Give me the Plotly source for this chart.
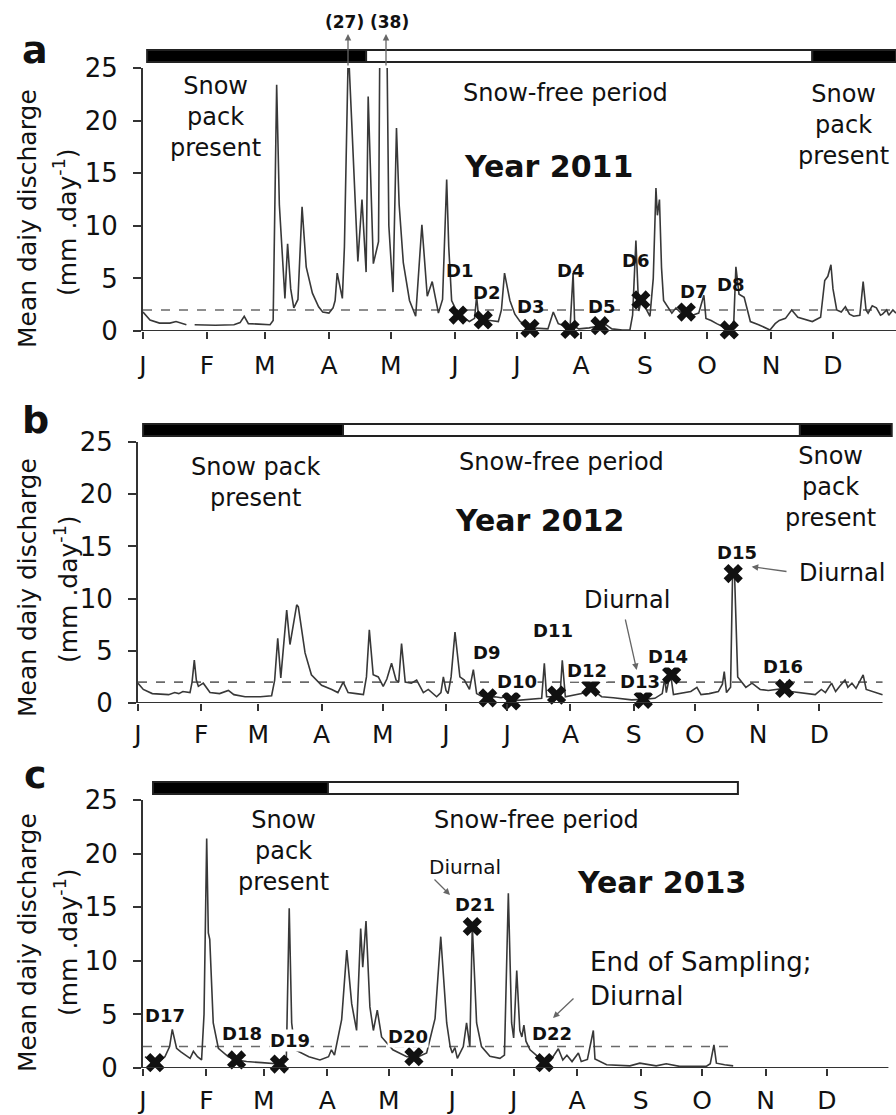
import plotly.graph_objects as go

W, H = 896, 1115
FONT = "DejaVu Sans"

# ---------------- data ----------------
month_starts = [0, 31, 59, 90, 120, 151, 181, 212, 243, 273, 304, 334]
month_labels = ["J", "F", "M", "A", "M", "J", "J", "A", "S", "O", "N", "D"]
threshold = 2.0

day_2011 = [0, 3.4, 8, 13, 16, 18, 21, 23, 25, 35, 44, 47, 49, 51, 56, 61.5, 63, 64.7, 66, 68.7, 70, 71.5, 73, 75, 77, 79, 82, 85, 87, 90,
            92, 93, 94, 96.5, 97.5, 99.4, 101, 104, 106, 108, 109, 111.5, 114, 115, 117.5, 119, 121, 122.7, 124, 126, 129, 132, 135, 137.6, 140, 143,
            145, 147, 148, 149.4, 152.5, 155, 158, 160.5, 161.5, 162.5, 164.5, 168, 172, 173.5, 175, 177.6, 180, 182.5, 187, 192, 196, 198.6,
            201, 204, 206.7, 208.2, 209, 211, 216, 221, 224, 227, 232, 235.7, 237, 238.6, 240, 241, 243, 245.4, 247, 248.3, 249, 250, 251, 252,
            254, 256, 258, 260, 263, 266, 269, 271.5, 272.5, 275, 277.7, 281, 284, 286, 287, 288.5, 291, 294, 298, 303.5, 306, 308, 311, 314,
            317, 324, 328, 330, 331.5, 333, 334, 335.8, 338, 340, 342, 344, 347, 348.6, 350, 351, 353, 355, 357, 358, 360, 361, 363, 364.5]
q_2011 = [1.8, 1.05, 0.75, 0.75, 0.9, 0.75, 0.6, None, 0.6, 0.55, 0.6, 0.8, 1.4, 0.7, 0.65, 0.6, 1.0, 23.4, 12, 3.1, 8.3, 4, 2.2, 3, 11.8, 6.1, 3.6, 2.3, 1.8, 1.7,
          2.2, 2.9, 5.5, 3.1, 8, 27, 20, 6.6, 12.5, 5.6, 22.3, 6.4, 8.5, 38, 38, 10, 3.7, 19.3, 12, 6.5, 2.9, 1.4, 10.1, 3.3, 4.7, 1.7,
          3, 14.4, 8, 2.9, 1.6, 1.3, 0.9, 1.2, 3.3, 1.2, 1.0, 1.0, 0.9, 2, 5.5, 2.9, 1.6, 0.9, 0.3, 0.25, 0.2, 1.8,
          0.7, 0.5, 0.2, 5.5, 0.4, 0.2, 0.3, 0.5, 0.6, 0.2, 0.1, 0.1, 1.5, 8.6, 1.9, 2.8, 2.3, 1.4, 5, 13.6, 11, 12.5, 6, 2.9,
          2.3, 1.7, 2.2, 1.8, 1.9, 1.5, 1.7, 3.4, 1.2, 1.0, 0.7, 0.4, 0.1, 1, 6.1, 3.5, 3.2, 0.9, 0.6, 0.1, 0.7, 1.0, 1.2, 2.0,
          1.3, 0.9, 1.3, 4.8, 5.2, 6.3, 4, 2.0, 1.8, 2.3, 1.6, 1.4, 1.5, 4.7, 2.0, 1.7, 2.4, 2.2, 1.5, 1.6, 2.0, 1.5, 2.0, 1.7]

day_2012 = [0, 2.6, 7, 12, 15, 18, 20, 22, 25.5, 26.5, 27.6, 28.6, 29.6, 32, 35.3, 40, 44.3, 47, 52.5, 60, 65.5, 67, 68.5, 70, 72.9, 74.5,
            77.8, 78.6, 81.9, 85, 90, 95, 98, 100.6, 103, 107, 110.5, 112, 113.4, 115.3, 117.8, 120.2, 122, 124.3, 126.5, 127.8, 129.2, 131,
            134, 136.6, 139.9, 142.3, 146.4, 148.5, 149.7, 151, 152, 153.5, 155.4, 157.8, 160, 162.5, 164.4, 166, 168, 171.5, 175, 178, 180,
            183, 189.7, 197.9, 199.2, 200.3, 203, 205.2, 207, 208, 209.5, 213, 217.5, 222, 227.3, 233, 239.5, 242, 247.7, 253.4, 257, 258.3,
            259, 261, 262.5, 265, 268, 271, 274, 276, 280, 284.5, 286.5, 287.4, 288.5, 290.5, 291.5, 292.5, 294, 296, 298, 301, 305, 309,
            313, 317, 320, 323.5, 328, 332, 335, 337, 340, 342, 344, 346.6, 348, 350, 352, 355.5, 357, 360, 365]
q_2012 = [1.9, 1.3, 0.9, 0.8, 0.8, 1.0, 0.9, 1.1, 1.0, 2, 4.1, 2.2, 1.6, 1.9, 1.0, 0.9, 1.2, 0.8, 0.6, 0.6, 0.7, 2.2, 6.2, 2.4, 8.9, 5.6,
          9.4, 9.2, 4.8, 2.7, 1.7, 1.3, 1.0, 2.0, 1.0, 0.9, 0.8, 2.5, 7.0, 2.7, 2.5, 1.6, 2.3, 3.8, 2.2, 2.0, 5.7, 2.0,
          1.9, 2.2, 1.0, 1.3, 0.6, 1.0, 2.5, 1.2, 0.9, 2.5, 6.8, 2.5, 2.2, 1.3, 3.2, 0.9, 0.7, 0.5, 0.6, 0.5, 0.6,
          0.2, 0.3, 0.45, 3.8, 0.6, 0.6, 0.75, 1.0, 4.1, 0.6, 0.7, 0.9, 1.4, 0.6, 0.5, 0.35, 0.3, 0.35, 0.45, 0.9, 2.4,
          1.0, 2.9, 0.8, 0.9, 1.0, 1.1, 1.5, 0.8, 0.9, 1.1, 1.8, 3.0, 1.0, 1.5, 12.6, 12.0, 2.5, 2.0, 1.5, 1.9, 1.3, 1.2,
          1.3, 1.4, 1.1, 1.0, 0.9, 0.8, 1.3, 1.0, 1.9, 1.1, 1.6, 2.2, 1.5, 1.9, 1.4, 2.7, 1.3, 1.1, 0.8]

day_2013 = [1, 4, 6, 9, 10.7, 13, 14.3, 16.4, 18.5, 20.5, 23, 24.6, 26.6, 28.6, 29.8, 31.1, 31.9, 32.6, 34.3, 36.8, 41.7, 45.7, 50.6, 58, 63,
            66.6, 69, 70, 71.4, 72.6, 74.2, 78, 81, 86.4, 90.6, 92, 93.5, 97, 99.5, 101.9, 104.3, 106.3, 107.3, 108.9, 110.8, 112.5, 114.4,
            116.5, 122, 128.8, 132.3, 135, 138.5, 142.6, 145.4, 148.3, 150, 151, 152.3, 153.5, 156.4, 158, 159.6, 160.8, 162.9, 165.3, 169.4,
            174.3, 176.5, 178.4, 180, 181, 182.5, 184, 185, 186, 187, 189, 192, 196, 199, 202.8, 205, 207, 209.5, 212.6, 214, 217, 219.9,
            220.7, 226.4, 232, 237.8, 242.6, 247, 250.6, 255.5, 262, 275, 277, 278.8, 280, 284, 288.2]
q_2013 = [1.05, 0.6, 0.5, 0.8, 1.05, 2.0, 3.6, 1.84, 1.5, 1.2, 0.9, 1.55, 1.05, 0.75, 5, 21.4, 12.6, 12, 4.2, 1.84, 1.05, 0.75, 0.6, 0.5, 0.45,
          0.37, 0.7, 1.0, 14.9, 4.2, 1.7, 1.3, 1.05, 0.75, 1.05, 1.7, 1.2, 4.5, 11.0, 6.0, 3.5, 13.0, 9.4, 13.7, 5.7, 3.5, 5.4,
          2.9, 1.7, 1.05, 1.05, 1.1, 1.4, 4.6, 12.25, 4.2, 2.0, 1.4, 1.9, 0.9, 2.0, 4.2, 2.0, 13.3, 4.2, 2.0, 1.1,
          0.9, 1.2, 16.3, 4.2, 2.8, 9.1, 3.5, 2.9, 4.0, 2.5, 1.7, 1.2, 0.5, 0.7, 1.8, 0.75, 1.2, 0.6, 1.4, 0.6, 0.8, 3.5,
          0.85, 0.3, 0.25, 0.2, 0.45, 0.3, 0.2, 0.4, 0.15, 0.15, 0.4, 2.15, 0.45, 0.3, 0.2]

# sampling dates (day of year, discharge)
samples_2011 = ["D1", "D2", "D3", "D4", "D5", "D6", "D7", "D8"]
sday_2011 = [152.6, 164.7, 187.3, 206.7, 221.2, 241, 263, 283.8]
sq_2011 = [1.52, 1.05, 0.25, 0.15, 0.5, 2.95, 1.8, 0.1]
samples_2012 = ["D9", "D10", "D11", "D12", "D13", "D14", "D15", "D16"]
sday_2012 = [171.5, 183, 205.2, 222, 247.7, 261.6, 291.8, 317]
sq_2012 = [0.5, 0.2, 0.75, 1.5, 0.35, 2.7, 12.4, 1.4]
samples_2013 = ["D17", "D18", "D19", "D20", "D21", "D22"]
sday_2013 = [5.9, 45.7, 66.6, 132.3, 160.8, 196]
sq_2013 = [0.5, 0.75, 0.37, 1.05, 13.2, 0.5]

# snow cover periods (start day, end day, snow?)
snow_2011 = [(2, 108, True), (108, 324, False), (324, 364.5, True)]
snow_2012 = [(2.5, 100.5, True), (100.5, 324.5, False), (324.5, 369.5, True)]
snow_2013 = [(4.9, 90.3, True), (90.3, 290.5, False)]

# threshold line extents (days)
thr_end = [364.5, 365, 289]
axis_end = [364.5, 365, 364]

# ---------------- layout helpers ----------------
def px(x):
    return x / W

def py(y):
    return 1 - y / H

panels = [
    dict(xd=(143, 896), xr=(0, 364.5), yd=(331, 68), bar=(50, 62), days=day_2011, q=q_2011,
         sd=sday_2011, sq=sq_2011, snow=snow_2011, so=5),
    dict(xd=(138, 896), xr=(0, 371.6), yd=(703, 442), bar=(424, 436), days=day_2012, q=q_2012,
         sd=sday_2012, sq=sq_2012, snow=snow_2012, so=2),
    dict(xd=(143, 896), xr=(0, 367.7), yd=(1068, 800), bar=(782, 794), days=day_2013, q=q_2013,
         sd=sday_2013, sq=sq_2013, snow=snow_2013, so=3),
]

fig = go.Figure()
shapes = []
annotations = []
LINE = "#383838"

for i, p in enumerate(panels):
    n = "" if i == 0 else str(i + 1)
    xa, ya = "x" + n, "y" + n
    fig.add_trace(go.Scatter(x=[0, thr_end[i]], y=[threshold, threshold], mode="lines",
                             line=dict(color="#6a6a6a", width=1.6, dash="dash"),
                             xaxis=xa, yaxis=ya, showlegend=False, hoverinfo="skip"))
    fig.add_trace(go.Scatter(x=p["days"], y=p["q"], mode="lines", connectgaps=False,
                             line=dict(color=LINE, width=1.6),
                             xaxis=xa, yaxis=ya, showlegend=False))
    fig.add_trace(go.Scatter(x=p["sd"], y=p["sq"], mode="markers", cliponaxis=False,
                             marker=dict(symbol="x", size=17, color="#111111",
                                         line=dict(width=0)),
                             xaxis=xa, yaxis=ya, showlegend=False))
    xkey = "xaxis" + n
    ykey = "yaxis" + n
    fig.layout[xkey] = dict(domain=[px(p["xd"][0]), px(p["xd"][1])], range=list(p["xr"]),
                            anchor=ya, showgrid=False, zeroline=False, showline=False,
                            automargin=False,
                            ticks="outside", ticklen=7, tickwidth=1.5, tickcolor="#333",
                            tickvals=month_starts, ticktext=month_labels,
                            tickfont=dict(family=FONT, size=25, color="#111"),
                            ticklabelstandoff=p["so"])
    fig.layout[ykey] = dict(domain=[py(p["yd"][0]), py(p["yd"][1])], range=[0, 25],
                            anchor=xa, showgrid=False, zeroline=False, showline=True,
                            automargin=False,
                            linecolor="#333", linewidth=2,
                            ticks="outside", ticklen=8, tickwidth=1.5, tickcolor="#333",
                            tickvals=[0, 5, 10, 15, 20, 25],
                            tickfont=dict(family=FONT, size=26, color="#111"),
                            ticklabelstandoff=10)
    # x axis base line
    shapes.append(dict(type="line", xref=xa, yref=ya, x0=0, x1=axis_end[i], y0=0, y1=0,
                       line=dict(color="#333", width=2)))
    # snow bar
    b0, b1 = p["bar"]
    for (s, e, snow) in p["snow"]:
        shapes.append(dict(type="rect", xref=xa, yref="paper", x0=s, x1=e, y0=py(b1), y1=py(b0),
                           fillcolor="#000" if snow else "#fff",
                           line=dict(color="#222", width=2), layer="above"))

def txt(x, y, t, size=24, bold=False, bg=None, xanchor="center", align="center", angle=0):
    a = dict(x=px(x), y=py(y), xref="paper", yref="paper", text=("<b>%s</b>" % t) if bold else t,
             showarrow=False, xanchor=xanchor, yanchor="middle", align=align, textangle=angle,
             font=dict(family=FONT, size=size, color="#111"))
    if bg:
        a["bgcolor"] = bg
        a["borderpad"] = 0
    annotations.append(a)

def arrow(tx, ty, fx, fy):
    annotations.append(dict(x=px(tx), y=py(ty), xref="paper", yref="paper", text="",
                            showarrow=True, ax=fx - tx, ay=fy - ty, arrowhead=2, arrowsize=1,
                            arrowwidth=1.3, arrowcolor="#666"))

# panel letters
txt(35, 50, "a", size=38, bold=True)
txt(35, 420, "b", size=38, bold=True)
txt(35, 775, "c", size=38, bold=True)

# y-axis titles
for (c1, c2) in [(219, 222), (588, 589), (943, 942)]:
    txt(27, c1, "Mean daiy discharge", size=25, angle=-90)
    txt(66, c2, "(mm .day<sup>-1</sup>)", size=25, angle=-90)

# panel a texts
txt(215, 117, "Snow<br>pack<br>present", size=24)
txt(565, 93, "Snow-free period", size=24)
txt(843, 125, "Snow<br>pack<br>present", size=24)
txt(548, 167, "Year 2011", size=30, bold=True)
txt(344, 22, "(27)", size=17, bold=True)
txt(389, 22, "(38)", size=17, bold=True)
arrow(348, 34, 348, 67)
arrow(386, 34, 386, 67)
for lab, (x, y) in zip(samples_2011, [(460, 270), (486.7, 292.7), (530, 306.7), (570, 270.7), (601.7, 306.7),
                                     (635, 260), (693.3, 291.7), (730, 284)]):
    txt(x, y, lab, size=18, bold=True)

# panel b texts
txt(256, 482, "Snow pack<br>present", size=24)
txt(561, 462, "Snow-free period", size=24)
txt(830, 487, "Snow<br>pack<br>present", size=24)
txt(539, 520, "Year 2012", size=30, bold=True)
txt(627, 600, "Diurnal", size=24)
txt(842, 573, "Diurnal", size=24)
arrow(636.7, 670, 625, 618)
arrow(751.7, 566.7, 788, 571.7)
for lab, (x, y) in zip(samples_2012, [(486.7, 652.7), (516.7, 681), (553.3, 630), (586.7, 670), (640, 681),
                                     (668.3, 656), (736.7, 552.7), (782.7, 666.7)]):
    txt(x, y, lab, size=18, bold=True, bg="#fff")

# panel c texts
txt(283, 851, "Snow<br>pack<br>present", size=24)
txt(536, 820, "Snow-free period", size=24)
txt(661, 882, "Year 2013", size=30, bold=True)
txt(465, 866.7, "Diurnal", size=20)
arrow(450, 895, 433, 878)
txt(588, 979, "End of Sampling;<br>Diurnal", size=26, xanchor="left", align="left")
arrow(553, 1018, 575, 997)
for lab, (x, y) in zip(samples_2013, [(165, 1015), (241.7, 1033.3), (290, 1040), (408.3, 1036.7),
                                     (475, 904), (551.7, 1033.3)]):
    txt(x, y, lab, size=18, bold=True, bg="#fff")

fig.update_layout(template="none", width=W, height=H, autosize=False,
                  margin=dict(l=0, r=0, t=0, b=0, pad=0),
                  paper_bgcolor="white", plot_bgcolor="white", shapes=shapes,
                  annotations=annotations, font=dict(family=FONT), showlegend=False)

fig.write_html("out.html", config={"displayModeBar": False},
               post_script="document.body.style.margin='0';document.body.style.overflow='hidden';")
